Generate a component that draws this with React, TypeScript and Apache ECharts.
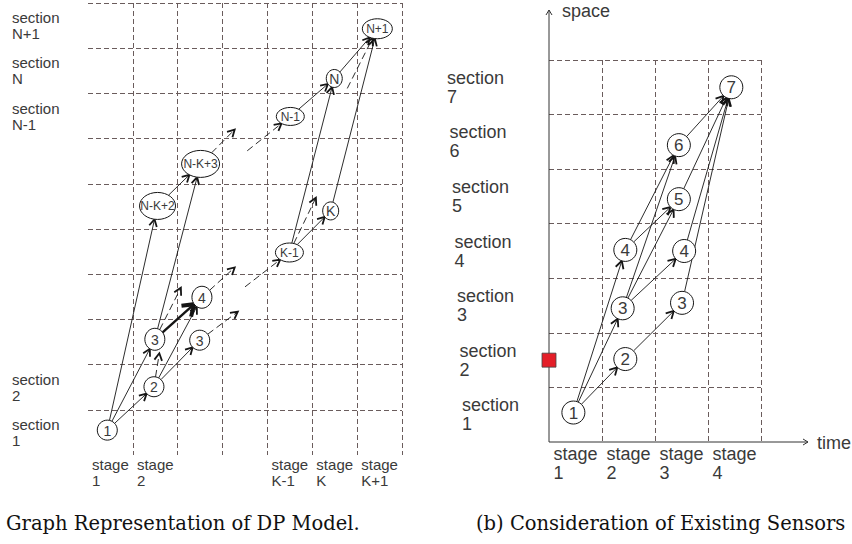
import React, { useEffect, useRef } from 'react';
import * as echarts from 'echarts';

// ---------------- Panel (a): graph representation of the DP model ----------------
const leftStageLabels = ['stage\n1', 'stage\n2', '', '', 'stage\nK-1', 'stage\nK', 'stage\nK+1'];
const leftSectionLabels = ['section\n1', 'section\n2', '', '', '', '', '', 'section\nN-1', 'section\nN', 'section\nN+1'];

const leftNodeIds = ['1', '2', '3a', '3b', '4', 'K-1', 'K', 'N-K+2', 'N-K+3', 'N-1', 'N', 'N+1'];
const leftNodeTexts = ['1', '2', '3', '3', '4', 'K-1', 'K', 'N-K+2', 'N-K+3', 'N-1', 'N', 'N+1'];
const leftNodeStage = [0.43, 1.47, 1.49, 2.49, 2.54, 4.49, 5.41, 1.55, 2.51, 4.51, 5.49, 6.45];
const leftNodeSection = [0.55, 1.51, 2.56, 2.54, 3.49, 4.48, 5.4, 5.51, 6.44, 7.49, 8.33, 9.43];

// open ends of the partially drawn (dashed) transitions
const leftOpenIds = ['o1', 'o2', 'o3', 'o4', 'o5', 'o6', 'o7', 'o8', 'o9'];
const leftOpenStage = [1.59, 2.07, 3.34, 3.27, 3.5, 5.08, 5.78, 3.27, 3.55];
const leftOpenSection = [2.25, 3.7, 3.17, 4.15, 3.72, 5.69, 8.11, 7.2, 6.73];

const leftEdgeFrom = ['1', '1', '1', '2', '2', '2', '3a', '3a', '3a', '3b', '4', 'o5', 'K-1', 'K-1', 'K-1', 'K', 'N', 'o7', 'N-1', 'o9', 'N-K+2', 'N-K+3'];
const leftEdgeTo = ['N-K+2', '3a', '2', 'o1', '4', '3b', 'N-K+3', '4', 'o2', 'o3', 'o4', 'K-1', 'N', 'K', 'o6', 'N+1', 'N+1', 'N+1', 'N', 'N-1', 'N-K+3', 'o8'];
const leftEdgeKind = ['solid', 'solid', 'solid', 'dashed', 'solid', 'solid', 'solid', 'bold', 'dashed', 'dashed', 'dashed', 'dashed', 'solid', 'solid', 'dashed', 'solid', 'solid', 'dashed', 'solid', 'dashed', 'solid', 'dashed'];

// ---------------- Panel (b): consideration of existing sensors ----------------
const rightStageLabels = ['stage\n1', 'stage\n2', 'stage\n3', 'stage\n4'];
const rightSectionLabels = ['section\n1', 'section\n2', 'section\n3', 'section\n4', 'section\n5', 'section\n6', 'section\n7'];

const rightNodeIds = ['1', '2', '3a', '3b', '4a', '4b', '5', '6', '7'];
const rightNodeTexts = ['1', '2', '3', '3', '4', '4', '5', '6', '7'];
const rightNodeStage = [0.46, 1.44, 1.39, 2.51, 1.44, 2.55, 2.45, 2.45, 3.44];
const rightNodeSection = [0.54, 1.52, 2.45, 2.55, 3.52, 3.5, 4.45, 5.44, 6.5];

const rightEdgeFrom = ['1', '1', '1', '2', '3a', '3a', '3a', '4a', '4a', '3b', '4b', '5', '6'];
const rightEdgeTo = ['2', '3a', '4a', '3b', '4b', '5', '6', '5', '6', '7', '7', '7', '7'];
const rightEdgeKind = rightEdgeFrom.map(() => 'solid');

// existing sensor (red square) located on section 2
const sensorStage = [0];
const sensorSection = [1.5];

const captionA = 'Graph Representation of DP Model.';
const captionB = '(b) Consideration of Existing Sensors';

// ---------------- styles / layout ----------------
const W = 852;
const H = 544;
const SANS = '"Liberation Sans", Arial, sans-serif';
const SERIF = '"DejaVu Serif", "Liberation Serif", serif';
const TEXT = '#3a3a3a';
const GRIDC = '#6a5c5c';
const INK = '#151515';

const LG = { left: 88, top: 3, right: 402, bottom: 455 };
const RG = { left: 549, top: 60, right: 761, bottom: 442 };

const leftNodeSize: Record<string, [number, number]> = {
  '1': [20, 20], '2': [20, 20], '3a': [20, 22], '3b': [20, 20], '4': [20, 22],
  'K-1': [28, 19], 'K': [16, 18], 'N-K+2': [36, 27], 'N-K+3': [38, 27],
  'N-1': [28, 18], 'N': [16, 18], 'N+1': [30, 20],
};
const rightNodeSize: Record<string, [number, number]> = {};
rightNodeIds.forEach((id) => { rightNodeSize[id] = [23, 23]; });

function buildPanel(
  gridIdx: number,
  ids: string[], texts: string[], stage: number[], section: number[],
  openIds: string[], openStage: number[], openSection: number[],
  from: string[], to: string[], kind: string[],
  sizes: Record<string, [number, number]>,
  fontFor: (t: string) => number,
  arrowLen: number,
) {
  const pos: Record<string, [number, number]> = {};
  ids.forEach((id, i) => { pos[id] = [stage[i], section[i]]; });
  openIds.forEach((id, i) => { pos[id] = [openStage[i], openSection[i]]; });
  const rad = (id: string): [number, number] => (sizes[id] ? [sizes[id][0] / 2, sizes[id][1] / 2] : [0, 0]);

  const edgeSeries = {
    type: 'custom',
    coordinateSystem: 'cartesian2d',
    xAxisIndex: gridIdx,
    yAxisIndex: gridIdx,
    silent: true,
    z: 2,
    data: from.map((a, i) => [pos[a][0], pos[a][1], pos[to[i]][0], pos[to[i]][1]]),
    encode: { x: [0, 2], y: [1, 3] },
    renderItem: (params: any, api: any) => {
      const i = params.dataIndex;
      const p1 = api.coord([api.value(0), api.value(1)]);
      const p2 = api.coord([api.value(2), api.value(3)]);
      const dx = p2[0] - p1[0];
      const dy = p2[1] - p1[1];
      const len = Math.sqrt(dx * dx + dy * dy) || 1;
      const ux = dx / len;
      const uy = dy / len;
      const tr = (r: [number, number]) =>
        r[0] && r[1] ? 1 / Math.sqrt((ux * ux) / (r[0] * r[0]) + (uy * uy) / (r[1] * r[1])) : 0;
      const t1 = tr(rad(from[i]));
      const t2 = tr(rad(to[i]));
      const s = [p1[0] + ux * t1, p1[1] + uy * t1];
      const e = [p2[0] - ux * t2, p2[1] - uy * t2];
      const k = kind[i];
      const bold = k === 'bold';
      const L = bold ? arrowLen * 1.6 : arrowLen;
      const A = bold ? 0.6 : 0.5;
      const back = Math.atan2(-uy, -ux);
      const h1 = [e[0] + L * Math.cos(back + A), e[1] + L * Math.sin(back + A)];
      const h2 = [e[0] + L * Math.cos(back - A), e[1] + L * Math.sin(back - A)];
      return {
        type: 'group',
        children: [
          {
            type: 'line',
            shape: { x1: s[0], y1: s[1], x2: e[0], y2: e[1] },
            style: { stroke: INK, lineWidth: bold ? 2.4 : 0.9, lineDash: k === 'dashed' ? [7, 4] : null, fill: 'none' },
          },
          {
            type: 'polyline',
            shape: { points: [h1, e, h2] },
            style: { stroke: INK, lineWidth: bold ? 4 : 1.8, fill: 'none' },
          },
        ],
      };
    },
  };

  const nodeSeries = {
    type: 'custom',
    coordinateSystem: 'cartesian2d',
    xAxisIndex: gridIdx,
    yAxisIndex: gridIdx,
    silent: true,
    z: 3,
    data: ids.map((id) => [pos[id][0], pos[id][1]]),
    encode: { x: 0, y: 1 },
    renderItem: (params: any, api: any) => {
      const i = params.dataIndex;
      const c = api.coord([api.value(0), api.value(1)]);
      const r = rad(ids[i]);
      return {
        type: 'group',
        children: [
          {
            type: 'ellipse',
            shape: { cx: c[0], cy: c[1], rx: r[0], ry: r[1] },
            style: { fill: '#fff', stroke: INK, lineWidth: 1 },
          },
          {
            type: 'text',
            x: c[0],
            y: c[1] + 0.5,
            style: {
              text: texts[i], fill: TEXT, fontSize: fontFor(texts[i]), fontFamily: SANS,
              align: 'center', verticalAlign: 'middle',
            },
          },
        ],
      };
    },
  };
  return [edgeSeries, nodeSeries];
}

function valueAxis(gridIndex: number, max: number) {
  return {
    gridIndex,
    type: 'value',
    min: 0,
    max,
    interval: 1,
    axisLine: { show: false },
    axisTick: { show: false },
    axisLabel: { show: false },
    splitLine: { show: true, showMinLine: false, lineStyle: { color: GRIDC, type: [5, 3], width: 1 } },
  };
}

// category axis used only to place the multi-line stage / section labels;
// slant shifts label i right by slant * (count - 1 - i) pixels
function labelAxis(gridIndex: number, data: string[], position: string, fontSize: number, lineHeight: number, margin: number, align: string, slant = 0) {
  const rich: Record<string, any> = {};
  data.forEach((_, i) => {
    rich['s' + i] = {
      align: 'left', fontSize, lineHeight, color: TEXT, fontFamily: SANS,
      padding: [0, 0, 0, slant * (data.length - 1 - i)],
    };
  });
  return {
    gridIndex,
    type: 'category',
    data,
    position,
    axisLine: { show: false },
    axisTick: { show: false },
    splitLine: { show: false },
    axisLabel: {
      interval: 0,
      margin,
      align,
      formatter: (v: string, idx: number) => (v ? v.split('\n').map((l) => `{s${idx}|${l}}`).join('\n') : ''),
      rich,
    },
  };
}

export default function App() {
  const ref = useRef<HTMLDivElement>(null);
  useEffect(() => {
    if (!ref.current) return;
    const chart = echarts.init(ref.current, null, { renderer: 'svg', width: W, height: H });

    const left = buildPanel(
      0, leftNodeIds, leftNodeTexts, leftNodeStage, leftNodeSection,
      leftOpenIds, leftOpenStage, leftOpenSection,
      leftEdgeFrom, leftEdgeTo, leftEdgeKind, leftNodeSize,
      (t) => (t.length === 1 ? 14 : 12), 8,
    );
    const right = buildPanel(
      1, rightNodeIds, rightNodeTexts, rightNodeStage, rightNodeSection,
      [], [], [],
      rightEdgeFrom, rightEdgeTo, rightEdgeKind, rightNodeSize,
      () => 17, 8.5,
    );

    const option: any = {
      animation: false,
      backgroundColor: '#fff',
      grid: [
        { left: LG.left, top: LG.top, width: LG.right - LG.left, height: LG.bottom - LG.top },
        { left: RG.left, top: RG.top, width: RG.right - RG.left, height: RG.bottom - RG.top },
      ],
      xAxis: [
        valueAxis(0, leftStageLabels.length),
        valueAxis(1, rightStageLabels.length),
        labelAxis(0, leftStageLabels, 'bottom', 15, 16, 1, 'center'),
        labelAxis(1, rightStageLabels, 'bottom', 18, 19, 2, 'center'),
      ],
      yAxis: [
        valueAxis(0, leftSectionLabels.length),
        valueAxis(1, rightSectionLabels.length),
        labelAxis(0, leftSectionLabels, 'left', 15, 16, LG.left - 12, 'left'),
        labelAxis(1, rightSectionLabels, 'left', 18, 19, RG.left - 447, 'left', 2.5),
      ],
      series: [
        ...left,
        ...right,
        {
          type: 'scatter',
          xAxisIndex: 1,
          yAxisIndex: 1,
          silent: true,
          z: 6,
          symbol: 'rect',
          symbolSize: 14,
          data: sensorStage.map((s, i) => [s, sensorSection[i]]),
          itemStyle: { color: '#e41e28', borderColor: '#444', borderWidth: 0.8, opacity: 1 },
        },
      ],
      graphic: [
        { type: 'line', z: 5, shape: { x1: RG.left, y1: RG.bottom, x2: RG.left, y2: 10 }, style: { stroke: '#333', lineWidth: 1 } },
        { type: 'polyline', z: 5, shape: { points: [[RG.left - 3, 15], [RG.left, 10], [RG.left + 3, 15]] }, style: { stroke: '#333', lineWidth: 1, fill: 'none' } },
        { type: 'line', z: 5, shape: { x1: RG.left, y1: RG.bottom, x2: 808, y2: RG.bottom }, style: { stroke: '#333', lineWidth: 1 } },
        { type: 'polyline', z: 5, shape: { points: [[803, RG.bottom - 3], [808, RG.bottom], [803, RG.bottom + 3]] }, style: { stroke: '#333', lineWidth: 1, fill: 'none' } },
        { type: 'text', z: 5, x: 562, y: 11, style: { text: 'space', fontSize: 18, fontFamily: SANS, fill: TEXT, verticalAlign: 'middle' } },
        { type: 'text', z: 5, x: 817, y: 443, style: { text: 'time', fontSize: 18, fontFamily: SANS, fill: TEXT, verticalAlign: 'middle' } },
        { type: 'text', z: 5, x: 6, y: 523, style: { text: captionA, fontSize: 19.5, fontFamily: SERIF, fill: '#111', verticalAlign: 'middle' } },
        { type: 'text', z: 5, x: 476, y: 523, style: { text: captionB, fontSize: 19.5, fontFamily: SERIF, fill: '#111', verticalAlign: 'middle' } },
      ],
    };
    chart.setOption(option);
    return () => chart.dispose();
  }, []);
  return <div ref={ref} style={{ position: 'absolute', left: 0, top: 0, width: W, height: H }} />;
}
